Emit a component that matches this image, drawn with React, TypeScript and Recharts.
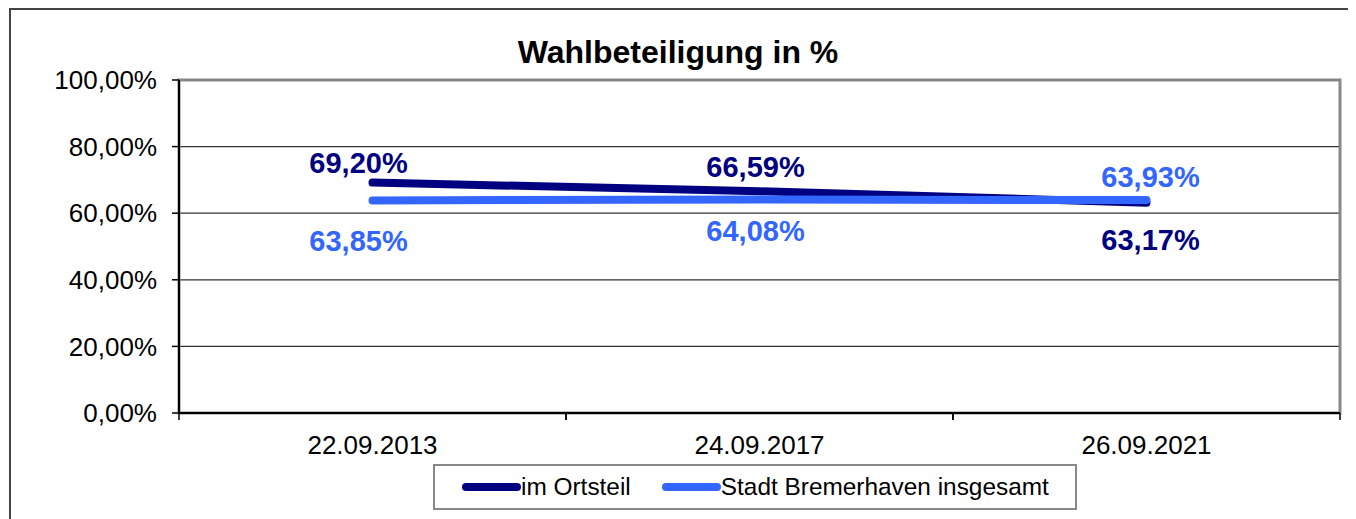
import React from 'react';
import {
  LineChart,
  Line,
  XAxis,
  YAxis,
  CartesianGrid,
  ReferenceArea,
  LabelList,
} from 'recharts';

const categories = ['22.09.2013', '24.09.2017', '26.09.2021'];
const ortsteil = [69.2, 66.59, 63.17];
const bremerhaven = [63.85, 64.08, 63.93];
const yTicks = [0, 20, 40, 60, 80, 100];

const series = [
  { key: 'ortsteil', name: 'im Ortsteil', color: '#000080' },
  { key: 'bremerhaven', name: 'Stadt Bremerhaven insgesamt', color: '#3366FF' },
];

const data = categories.map((date, i) => ({
  date,
  ortsteil: ortsteil[i],
  bremerhaven: bremerhaven[i],
}));

const FONT = '"Liberation Sans", Arial, sans-serif';
const CHART_W = 1348;
const CHART_H = 511;
const MARGIN = { top: 72, right: 16, bottom: 0, left: 0 };
const Y_AXIS_W = 171;
const PLOT_W = CHART_W - MARGIN.right - MARGIN.left - Y_AXIS_W;

const pct = (v: number) => v.toFixed(2).replace('.', ',') + '%';

// label placement per point (above / below the line), like the original
const labelOffsets: Record<string, { dx: number[]; dy: number[] }> = {
  ortsteil: { dx: [-14, -4, 4], dy: [-20, -24, 37] },
  bremerhaven: { dx: [-14, -4, 4], dy: [41, 31, -23] },
};

const makeLabel = (key: string, color: string) => (props: any) => {
  const { x, y, value, index } = props;
  const off = labelOffsets[key];
  return (
    <text
      x={Number(x) + off.dx[index]}
      y={Number(y) + off.dy[index]}
      textAnchor="middle"
      dominantBaseline="central"
      fill={color}
      fontSize={29}
      fontWeight="bold"
      fontFamily={FONT}
    >
      {pct(Number(value))}
    </text>
  );
};

const XTick = (props: any) => {
  const { x, y, payload } = props;
  const half = PLOT_W / categories.length / 2;
  return (
    <g>
      <line x1={x - half} x2={x - half} y1={y} y2={y + 7} stroke="#000" strokeWidth={1.5} />
      <line x1={x + half} x2={x + half} y1={y} y2={y + 7} stroke="#000" strokeWidth={1.5} />
      <text x={x} y={y + 41} textAnchor="middle" fontSize={26} fontFamily={FONT} fill="#000">
        {payload.value}
      </text>
    </g>
  );
};

export default function App() {
  return (
    <div
      style={{
        position: 'relative',
        width: CHART_W,
        height: CHART_H,
        overflow: 'hidden',
        fontFamily: FONT,
      }}
    >
      <div
        style={{
          position: 'absolute',
          left: 1,
          top: 0,
          width: CHART_W + 20,
          height: CHART_H + 20,
          borderLeft: '2px solid #444',
          borderTop: '2px solid #444',
        }}
      />
      <div
        style={{
          position: 'absolute',
          left: 0,
          top: 28,
          width: 1340,
          textAlign: 'center',
          fontSize: 32,
          lineHeight: '32px',
          fontWeight: 'bold',
          color: '#000',
        }}
      >
        Wahlbeteiligung in %
      </div>
      <LineChart width={CHART_W} height={CHART_H} data={data} margin={MARGIN}>
        <CartesianGrid vertical={false} stroke="#333" strokeWidth={1.2} />
        <ReferenceArea y1={0} y2={100} fill="none" stroke="#888" strokeWidth={3} ifOverflow="visible" />
        <XAxis
          dataKey="date"
          scale="band"
          height={106}
          tickLine={false}
          tickSize={0}
          tickMargin={0}
          axisLine={{ stroke: '#000', strokeWidth: 2 }}
          tick={<XTick />}
          interval={0}
        />
        <YAxis
          width={Y_AXIS_W}
          domain={[0, 100]}
          ticks={yTicks}
          tickFormatter={pct}
          tickSize={7}
          tickMargin={15}
          axisLine={{ stroke: '#000', strokeWidth: 2 }}
          tickLine={{ stroke: '#000', strokeWidth: 1.5 }}
          tick={{ fontSize: 26, fill: '#000', fontFamily: FONT }}
        />
        {series.map((s) => (
          <Line
            key={s.key}
            dataKey={s.key}
            name={s.name}
            stroke={s.color}
            strokeWidth={8}
            strokeLinecap="round"
            dot={false}
            activeDot={false}
            isAnimationActive={false}
          >
            <LabelList dataKey={s.key} content={makeLabel(s.key, s.color)} />
          </Line>
        ))}
      </LineChart>
      <div
        style={{
          position: 'absolute',
          left: 425,
          top: 456,
          width: 644,
          height: 46,
          boxSizing: 'border-box',
          border: '2px solid #888',
          background: '#fff',
          display: 'flex',
          alignItems: 'center',
          paddingLeft: 27,
          fontSize: 24.4,
          color: '#000',
        }}
      >
        {series.map((s, i) => (
          <div key={s.key} style={{ display: 'flex', alignItems: 'center', marginLeft: i === 0 ? 0 : 31 }}>
            <div style={{ width: 59, height: 8, borderRadius: 4, background: s.color }} />
            <span>{s.name}</span>
          </div>
        ))}
      </div>
    </div>
  );
}
